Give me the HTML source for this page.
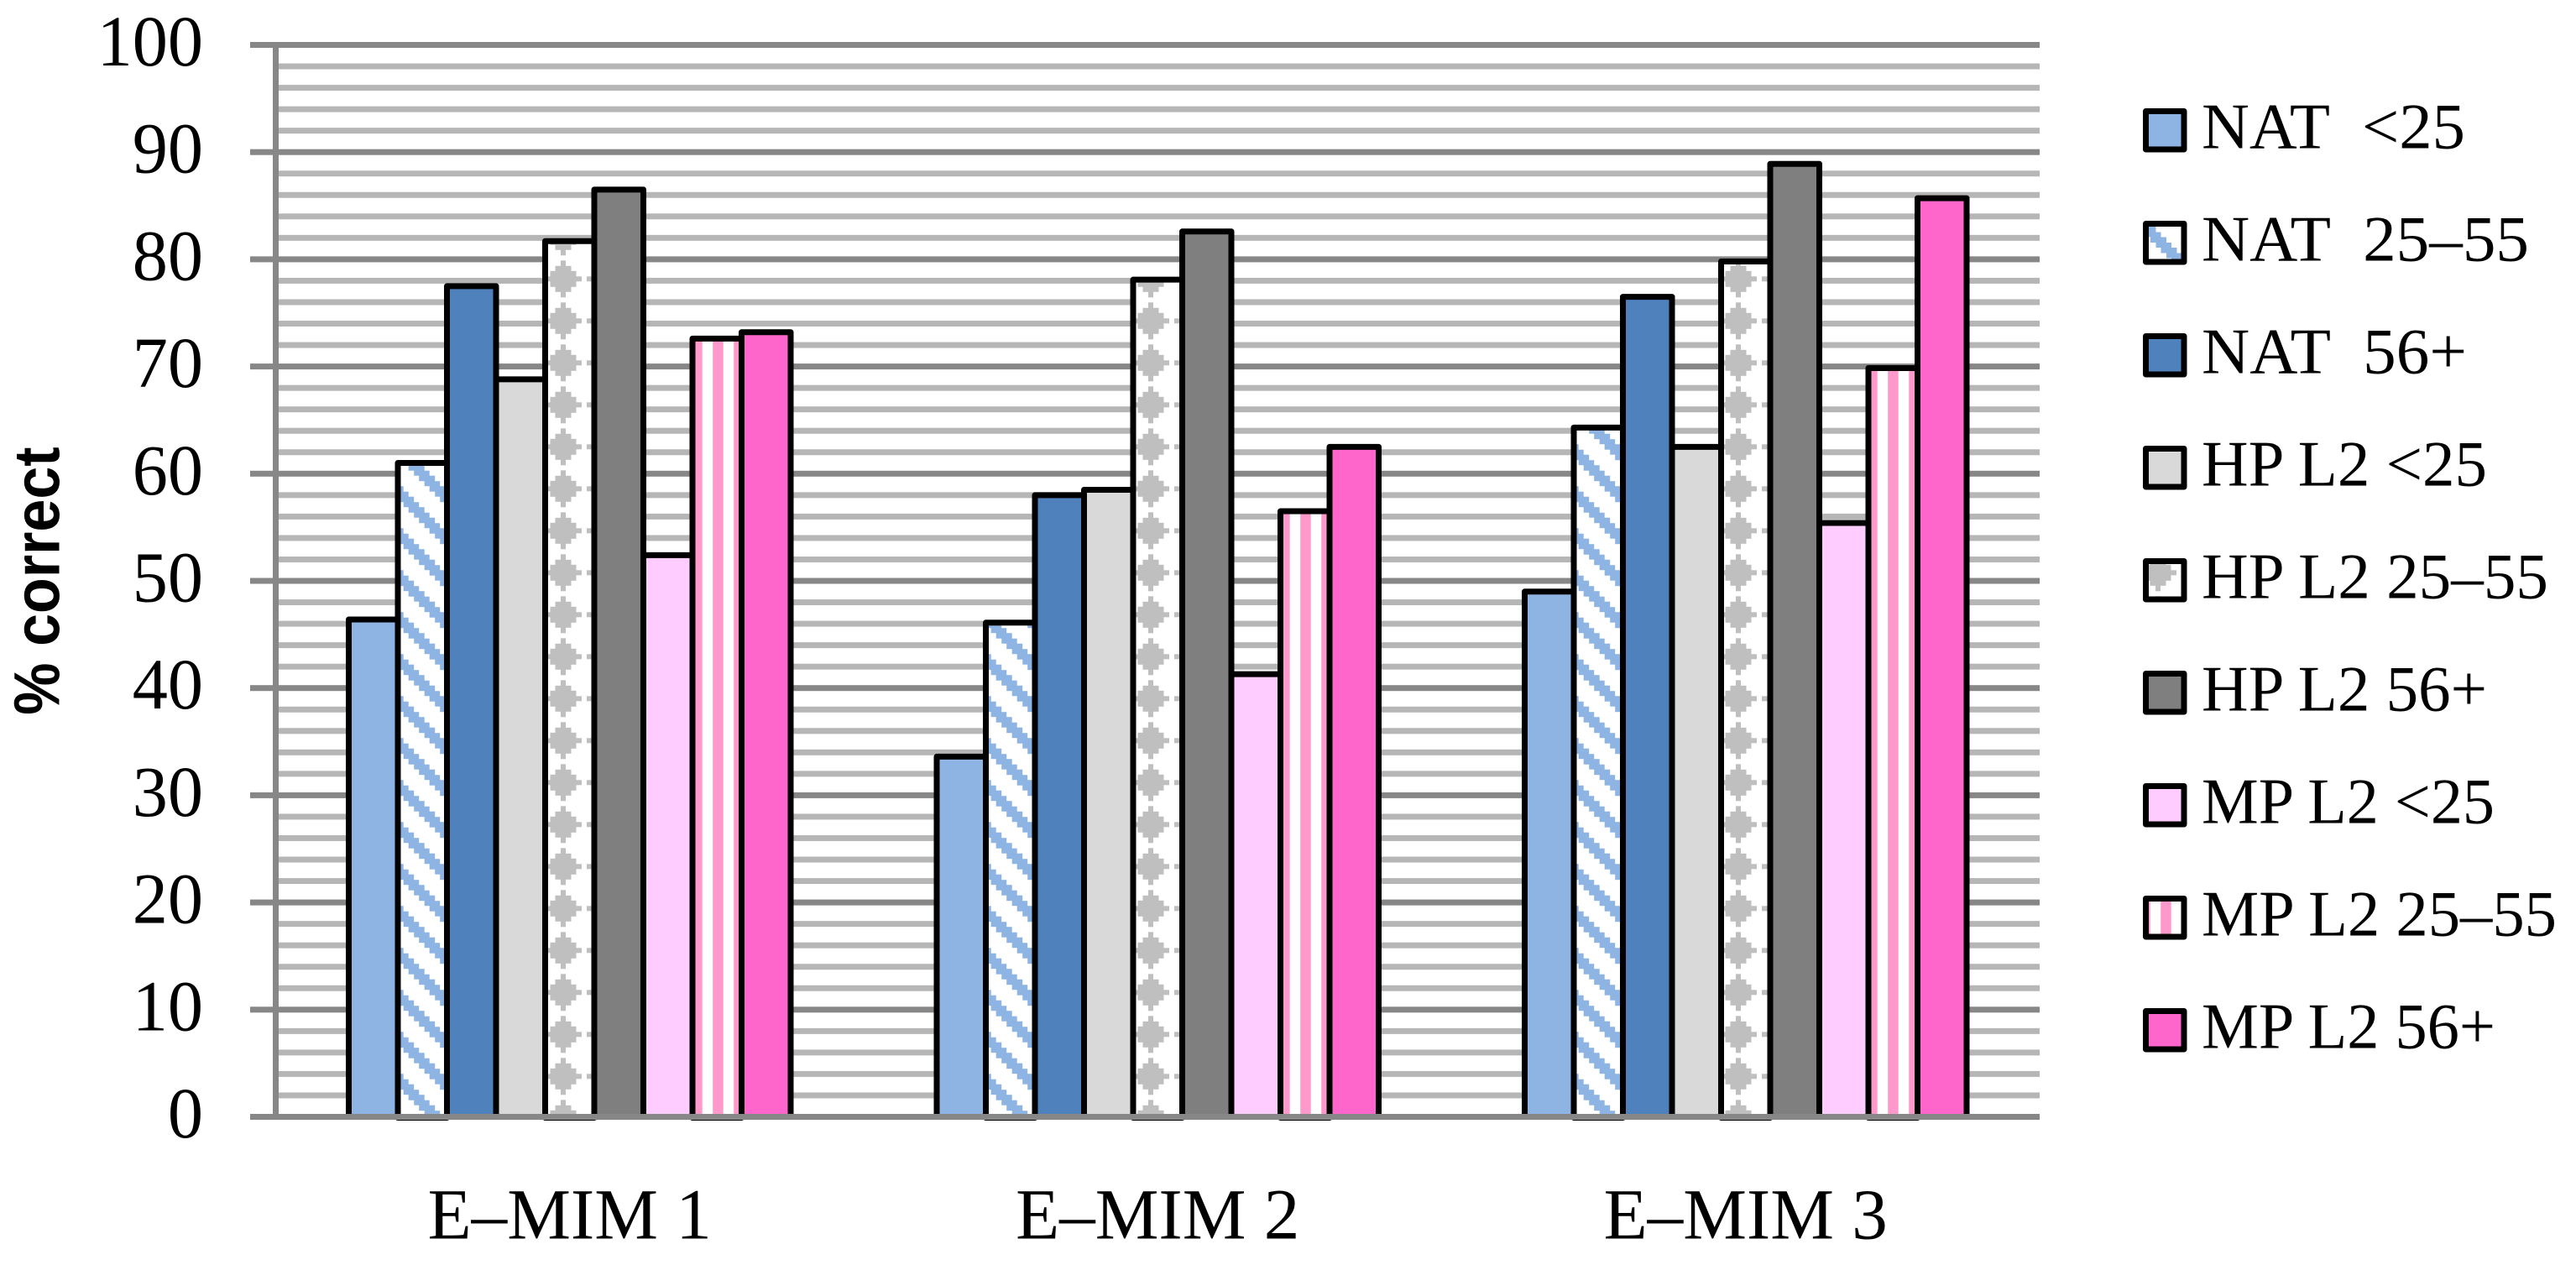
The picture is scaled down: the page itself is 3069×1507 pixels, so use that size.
<!DOCTYPE html>
<html lang="en">
<head>
<meta charset="utf-8">
<title>% correct by E-MIM task and group</title>
<style>
html,body{margin:0;padding:0;background:#fff;}
svg{display:block;}
text{font-family:"Liberation Serif",serif;fill:#000;white-space:pre;}
</style>
</head>
<body>
<svg id="chart" xmlns="http://www.w3.org/2000/svg" width="3069" height="1507" viewBox="0 0 3069 1507">
  <defs>
    <pattern id="hatch" patternUnits="userSpaceOnUse" width="50" height="50" patternTransform="translate(-0.8,4.2)"></pattern>
    <pattern id="hatch-legend" patternUnits="userSpaceOnUse" width="50" height="50" patternTransform="translate(2549.5,257.5)"></pattern>
    <pattern id="diamond" patternUnits="userSpaceOnUse" width="50" height="50" patternTransform="translate(-4,7.3)">
      <rect width="50" height="50" fill="#fff"/>
      <rect x="21.875" y="3.125" width="6.25" height="6.25" fill="#bfbfbf" shape-rendering="crispEdges"/>
      <rect x="15.625" y="9.375" width="18.75" height="6.25" fill="#bfbfbf" shape-rendering="crispEdges"/>
      <rect x="9.375" y="15.625" width="31.25" height="6.25" fill="#bfbfbf" shape-rendering="crispEdges"/>
      <rect x="3.125" y="21.875" width="43.75" height="6.25" fill="#bfbfbf" shape-rendering="crispEdges"/>
      <rect x="9.375" y="28.125" width="31.25" height="6.25" fill="#bfbfbf" shape-rendering="crispEdges"/>
      <rect x="15.625" y="34.375" width="18.75" height="6.25" fill="#bfbfbf" shape-rendering="crispEdges"/>
      <rect x="21.875" y="40.625" width="6.25" height="6.25" fill="#bfbfbf" shape-rendering="crispEdges"/>
    </pattern>
    <pattern id="vstripe" patternUnits="userSpaceOnUse" width="25" height="25" patternTransform="translate(-0.8,0)">
      <rect width="25" height="25" fill="#fff"/>
      <rect width="12.5" height="25" fill="#ff99cc" shape-rendering="crispEdges"/>
    </pattern>
  </defs>
  <rect x="0" y="0" width="3069" height="1507" fill="#fff"/>
  <g id="grid"></g>
  <g id="bars"></g>
  <g id="axes"></g>
  <g id="legend"></g>
  <text transform="translate(70.7,851.7) rotate(-90) scale(0.91,1)" style="font-family:'Liberation Sans',sans-serif;font-weight:700;font-size:77px;">% correct</text>
</svg>
<script>
const categories = ['E\u2013MIM 1', 'E\u2013MIM 2', 'E\u2013MIM 3'];
const tickLabels = ['0', '10', '20', '30', '40', '50', '60', '70', '80', '90', '100'];
const seriesNames = ['NAT  <25', 'NAT  25\u201355', 'NAT  56+', 'HP L2 <25', 'HP L2 25\u201355', 'HP L2 56+', 'MP L2 <25', 'MP L2 25\u201355', 'MP L2 56+'];
const natUnder25 = [46.4, 33.6, 49.0];
const nat25to55 = [61.0, 46.1, 64.3];
const nat56plus = [77.5, 58.0, 76.5];
const hpUnder25 = [68.8, 58.5, 62.5];
const hp25to55 = [81.7, 78.1, 79.8];
const hp56plus = [86.5, 82.6, 88.9];
const mpUnder25 = [52.4, 41.3, 55.4];
const mp25to55 = [72.6, 56.5, 69.85];
const mp56plus = [73.2, 62.5, 85.7];
const seriesValues = [natUnder25, nat25to55, nat56plus, hpUnder25, hp25to55, hp56plus, mpUnder25, mp25to55, mp56plus];
const seriesFills = ['#8eb4e3', 'url(#hatch)', '#4f81bd', '#d9d9d9', 'url(#diamond)', '#7f7f7f', '#ffccff', 'url(#vstripe)', '#ff66cc'];
const legendFills = ['#8eb4e3', 'url(#hatch-legend)', '#4f81bd', '#d9d9d9', 'url(#diamond)', '#7f7f7f', '#ffccff', 'url(#vstripe)', '#ff66cc'];
const legendTextLengths = [314, 390, 316, 340, 413, 340, 349, 423, 350];
const patterned = [false, true, false, false, true, false, false, true, false];

const SVGNS = 'http://www.w3.org/2000/svg';
const plotLeft = 328.5, plotRight = 2430, y0 = 1330.5, pxPerUnit = 12.77;
const bandWidth = 700.5, barWidth = 58.5, bandPad = 87;

function yScale(v) { return y0 - v * pxPerUnit; }
function xScale(groupIndex, seriesIndex) { return plotLeft + bandWidth * groupIndex + bandPad + barWidth * seriesIndex; }
function make(tag, attrs, parent) {
  const n = document.createElementNS(SVGNS, tag);
  for (const k in attrs) n.setAttribute(k, attrs[k]);
  parent.appendChild(n);
  return n;
}

// Fill the wide-diagonal hatch tiles (8 x 8 cells, three cells per row)
['hatch', 'hatch-legend'].forEach(function (id) {
  const p = document.getElementById(id);
  make('rect', { width: 50, height: 50, fill: '#fff' }, p);
  for (let r = 0; r < 8; r++) {
    for (let c = 0; c < 3; c++) {
      const col = (r - 2 + c + 16) % 8;
      make('rect', { x: col * 6.25, y: r * 6.25, width: 6.25, height: 6.25, fill: '#8eb4e3', 'shape-rendering': 'crispEdges' }, p);
    }
  }
});

const grid = document.getElementById('grid');
const bars = document.getElementById('bars');
const axes = document.getElementById('axes');
const legend = document.getElementById('legend');

// Minor gridlines every 2 units, major gridlines every 10
for (let v = 2; v < 100; v += 2) {
  if (v % 10 === 0) continue;
  const minor = make('rect', { x: plotLeft + 3.5, y: yScale(v) - 3.5, width: plotRight - plotLeft - 3.5, height: 7, fill: '#b6b6b6' }, grid);
  
  
}
tickLabels.forEach(function (label) {
  const v = Number(label);
  if (v === 0) return;
  const major = make('rect', { x: 298, y: yScale(v) - 3.5, width: plotRight - 298, height: 7, fill: '#878787' }, grid);
  
  
});

// Bars
seriesValues.forEach(function (values, s) {
  values.forEach(function (v, g) {
    const bottom = patterned[s] ? y0 + 1 : y0;
    const top = yScale(v);
    const bar = make('rect', {
      x: xScale(g, s), y: top, width: barWidth, height: bottom - top,
      fill: seriesFills[s], stroke: '#000', 'stroke-width': 7, 'stroke-linejoin': 'round'
    }, bars);
    
    
  });
});

// Axes
const yAxisLine = make('rect', { x: plotLeft - 3.5, y: yScale(100), width: 7, height: y0 - yScale(100), fill: '#878787' }, axes);


const xAxisLine = make('rect', { x: 298, y: y0 - 3.5, width: plotRight - 298, height: 7, fill: '#878787' }, axes);



tickLabels.forEach(function (label) {
  const t = make('text', { transform: 'translate(242,' + (yScale(Number(label)) + 24.5) + ') scale(0.98,1)', 'text-anchor': 'end', 'font-size': 86 }, axes);
  t.textContent = label;
  
  
});
categories.forEach(function (label, g) {
  const cx = xScale(g, 0) + barWidth * 4.5;
  const t = make('text', { transform: 'translate(' + cx + ',1475.5) scale(0.99,1)', 'text-anchor': 'middle', 'font-size': 86 }, axes);
  t.textContent = label;
  
  
});

// Legend
seriesNames.forEach(function (name, s) {
  const rowTop = 129 + 134 * s;
  const entry = make('g', {}, legend);
  
  
  const swatch = make('rect', { x: 2556.5, y: rowTop + 3.5, width: 45.5, height: 45.5, fill: legendFills[s], stroke: '#000', 'stroke-width': 7, 'stroke-linejoin': 'round' }, entry);
  
  
  const label = make('text', { x: 2623, y: rowTop + 47.7, 'font-size': 77, textLength: legendTextLengths[s], lengthAdjust: 'spacingAndGlyphs' }, entry);
  label.textContent = name;
  
  
});
</script>
</body>
</html>
